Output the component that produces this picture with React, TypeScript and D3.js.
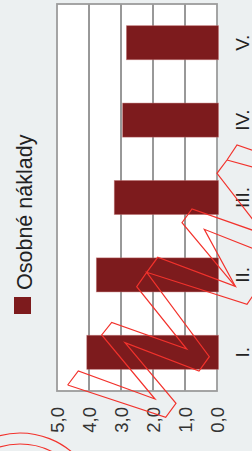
import React from 'react';
import * as d3 from 'd3';

// chart data
const categories = ['I.', 'II.', 'III.', 'IV.', 'V.'];
const values = [4.07, 3.77, 3.21, 2.95, 2.83];
const tickValues = [0, 1, 2, 3, 4, 5];
const seriesName = 'Osobné náklady';

// red stamp drawn over the picture (decoration, not data)
const stampLines: [number, number][][] = [
  [[67.7, 385], [78.3, 371], [155, 399], [101.7, 335], [111.7, 322.5], [186.7, 349], [136.7, 286.7], [146.7, 272.3], [157.7, 257.3], [235.3, 286.3], [182, 222.7], [192, 209], [254, 230.7]],
  [[67.7, 385], [165.7, 417.3], [176, 403.3], [125, 342.7], [199, 371], [209.3, 356.7], [146.7, 272.3], [247, 304.3], [253, 295.5]],
  [[254, 249], [204.3, 229.3], [235.3, 286.3]],
  [[254, 221], [217, 173.3], [227, 160], [237, 145], [254, 150.7]],
  [[227, 160], [254, 167.3]],
];
const stampRings = [80, 69];

const W = 252;
const H = 451;
const plot = { left: 57, right: 217, top: 4, bottom: 391 };

const locale = d3.formatLocale({ decimal: ',', thousands: ' ', grouping: [3], currency: ['', ' €'] });
const fmt = locale.format('.1f');

export default function App() {
  const x = d3.scaleLinear().domain([0, 5]).range([plot.right, plot.left]);
  const y = d3
    .scaleBand<string>()
    .domain(categories.slice().reverse())
    .range([plot.top, plot.bottom])
    .paddingInner(0.56)
    .paddingOuter(0.28);
  const line = d3.line();
  const font = '"Liberation Sans", Arial, sans-serif';

  return (
    <svg width={W} height={H} style={{ position: 'absolute', left: 0, top: 0 }} fontFamily={font}>
      <rect x={0} y={0} width={W} height={H} fill="#ecf0f1" />
      <rect
        x={plot.left}
        y={plot.top}
        width={plot.right - plot.left}
        height={plot.bottom - plot.top}
        fill="#fff"
      />
      {tickValues.slice(1, -1).map(t => (
        <line key={t} x1={x(t)} x2={x(t)} y1={plot.top} y2={plot.bottom} stroke="#333" strokeWidth={1} />
      ))}
      <rect
        x={plot.left}
        y={plot.top}
        width={plot.right - plot.left}
        height={plot.bottom - plot.top}
        fill="none"
        stroke="#9c9c9c"
        strokeWidth={1.8}
      />
      {categories.map((c, i) => (
        <rect
          key={c}
          x={x(values[i])}
          y={y(c)}
          width={x(0) - x(values[i]) + 1.5}
          height={y.bandwidth()}
          fill="#7d1b1d"
          stroke="#c07070"
          strokeOpacity={0.55}
          strokeWidth={0.8}
        />
      ))}
      {tickValues.map(t => (
        <text
          key={t}
          transform={`translate(${x(t) + 6.7},${plot.bottom + 16}) rotate(-90)`}
          textAnchor="end"
          fontSize={18.5}
          fill="#333"
        >
          {fmt(t)}
        </text>
      ))}
      {categories.map(c => (
        <text
          key={c}
          transform={`translate(${249},${(y(c) ?? 0) + y.bandwidth() / 2}) rotate(-90)`}
          textAnchor="middle"
          fontSize={19}
          fill="#222"
        >
          {c}
        </text>
      ))}
      <rect x={14} y={297} width={17} height={17} fill="#7d1b1d" />
      <text transform={`translate(${32},${290}) rotate(-90)`} fontSize={21.5} fill="#222">
        {seriesName}
      </text>
      <g fill="none" stroke="#f2322c" strokeWidth={1.2} strokeLinejoin="miter">
        {stampLines.map((pts, i) => (
          <path key={i} d={line(pts) ?? ''} />
        ))}
        {stampRings.map(r => (
          <circle key={r} cx={20} cy={513} r={r} />
        ))}
      </g>
    </svg>
  );
}
